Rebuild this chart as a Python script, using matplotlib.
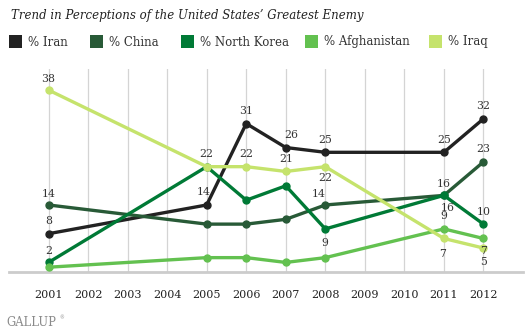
import matplotlib
matplotlib.use("Agg")
import matplotlib.pyplot as plt
from matplotlib.patches import Rectangle

years = [2001, 2005, 2006, 2007, 2008, 2011, 2012]
all_years = list(range(2001, 2013))

iran = [8, 14, 31, 26, 25, 25, 32]
china = [14, 10, 10, 11, 14, 16, 23]
north_korea = [2, 22, 15, 18, 9, 16, 10]
afghanistan = [1, 3, 3, 2, 3, 9, 7]
iraq = [38, 22, 22, 21, 22, 7, 5]

series_names = ["% Iran", "% China", "% North Korea", "% Afghanistan", "% Iraq"]
series_values = [iran, china, north_korea, afghanistan, iraq]
colors = ["#222222", "#285a37", "#007a36", "#63c150", "#c5e36c"]

# which points carry a value label, and where (dx, dy in points)
label_spots = {
    "% Iran": {2001: (0, 9), 2005: (-2, 9), 2006: (0, 9), 2007: (4, 9),
               2008: (0, 9), 2011: (0, 9), 2012: (0, 9)},
    "% China": {2001: (0, 8), 2008: (-5, 8), 2011: (0, 8), 2012: (0, 9)},
    "% North Korea": {2001: (0, 8), 2008: (0, -10), 2011: (3, -9), 2012: (0, 9)},
    "% Afghanistan": {2011: (0, 9), 2012: (0, -9)},
    "% Iraq": {2001: (0, 8), 2005: (0, 9), 2006: (0, 9), 2007: (0, 9),
               2008: (0, -8), 2011: (-1, -11), 2012: (0, -10)},
}

serif = "DejaVu Serif"
plt.rcParams["font.family"] = serif

fig = plt.figure(figsize=(5.30, 3.34), dpi=100)
ax = fig.add_axes([9 / 530, 62 / 334, 514 / 530, 203 / 334])

ax.set_xlim(2000, 2013)
ax.set_ylim(0, 42.4)

for yr in all_years:
    ax.axvline(yr, color="#d4d4d4", lw=0.9, zorder=0)

for name, vals, col in zip(series_names, series_values, colors):
    ax.plot(years, vals, color=col, lw=2.4, marker="o", ms=5,
            solid_joinstyle="round", zorder=3)

for name, vals in zip(series_names, series_values):
    spots = label_spots[name]
    for yr, v in zip(years, vals):
        if yr in spots:
            dx, dy = spots[yr]
            ax.annotate(str(v), (yr, v), xytext=(dx, dy), textcoords="offset points",
                        ha="center", va="center", fontsize=7.8, color="#333333",
                        zorder=5)

for s in ["top", "left", "right"]:
    ax.spines[s].set_visible(False)
ax.spines["bottom"].set_color("#cccccc")
ax.spines["bottom"].set_linewidth(2)
ax.set_yticks([])
ax.set_xticks(all_years)
ax.set_xticklabels([str(y) for y in all_years], fontsize=8, color="#222222")
ax.tick_params(axis="x", length=0, pad=13)

fig.text(11 / 530, 1 - 15 / 334, "Trend in Perceptions of the United States\u2019 Greatest Enemy",
         fontsize=8.5, style="italic", color="#222222", va="center", ha="left")

legend_x = [9, 90, 181, 305, 429]
for lx, name, col in zip(legend_x, series_names, colors):
    fig.patches.append(Rectangle((lx / 530, 1 - 48 / 334), 12.5 / 530, 12.5 / 334,
                                 transform=fig.transFigure, facecolor=col,
                                 edgecolor="none"))
    fig.text((lx + 19) / 530, 1 - 42 / 334, name, fontsize=8.5, color="#333333",
             va="center", ha="left")

fig.text(6 / 530, 1 - 322 / 334, "GALLUP", fontsize=8.3, color="#8a8a8a",
         va="center", ha="left")
fig.text(59 / 530, 1 - 318 / 334, "\u00ae", fontsize=3.5, color="#8a8a8a",
         va="center", ha="left")

fig.savefig("out.png", dpi=100)
